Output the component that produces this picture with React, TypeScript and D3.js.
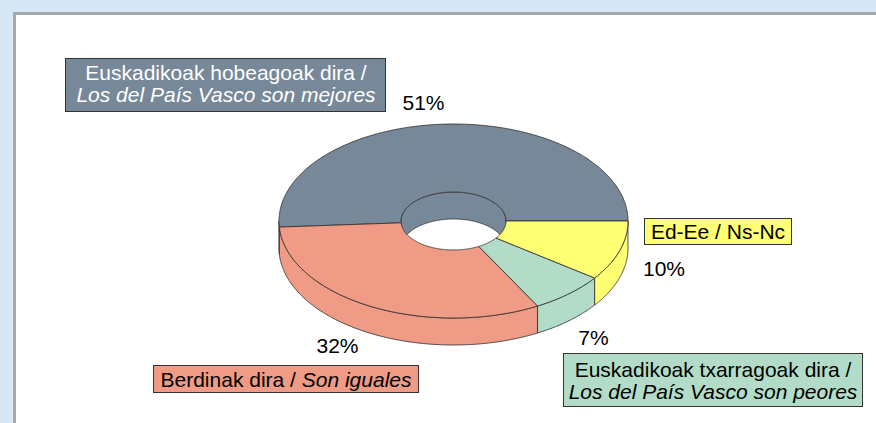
import React from 'react';
import * as d3 from 'd3';

const categories = [
  'Euskadikoak hobeagoak dira / Los del País Vasco son mejores',
  'Berdinak dira / Son iguales',
  'Euskadikoak txarragoak dira / Los del País Vasco son peores',
  'Ed-Ee / Ns-Nc',
];
const values = [51, 32, 7, 10];
const percentLabels = ['51%', '32%', '7%', '10%'];
const colors = ['#778899', '#ef9b86', '#b3dcc8', '#ffff73'];

const W = 876;
const H = 423;
const FONT = '"Liberation Sans", Arial, sans-serif';

const cx = 453.5;
const cy = 221;
const rx = 174.5;
const ry = 97;
const irx = 52.5;
const iry = 29;
const depth = 27;

type P = [number, number];
const pt = (a: number, b: number, t: number, dy = 0): P => [cx + a * Math.cos(t), cy - b * Math.sin(t) + dy];
const arcPts = (a: number, b: number, t0: number, t1: number, dy = 0): P[] => {
  const n = Math.max(2, Math.ceil(Math.abs(t1 - t0) / 0.01));
  return d3.range(n + 1).map((i) => pt(a, b, t0 + ((t1 - t0) * i) / n, dy));
};
const line = d3.line<P>().x((d) => d[0]).y((d) => d[1]);
const closed = (pts: P[]) => (line(pts) || '') + 'Z';

const pie = d3.pie<number>().sort(null).startAngle(0).endAngle(2 * Math.PI);
const arcs = pie(values);

function topFace(t0: number, t1: number) {
  return closed([...arcPts(rx, ry, t0, t1), ...arcPts(irx, iry, t1, t0)]);
}
function wall(a: number, b: number, t0: number, t1: number) {
  return closed([...arcPts(a, b, t0, t1), ...arcPts(a, b, t1, t0, depth)]);
}

interface BoxLine { text: string; italic?: string; upright?: string }

export default function App() {
  const outerWalls: JSX.Element[] = [];
  const innerWalls: JSX.Element[] = [];
  arcs.forEach((d, i) => {
    const s = Math.max(d.startAngle, Math.PI);
    const e = Math.min(d.endAngle, 2 * Math.PI);
    if (e > s) outerWalls.push(<path key={'ow' + i} d={wall(rx, ry, s, e)} fill={colors[i]} stroke="#2b2b2b" strokeWidth={0.8} />);
    const s2 = Math.max(d.startAngle, 0);
    const e2 = Math.min(d.endAngle, Math.PI);
    if (e2 > s2) innerWalls.push(<path key={'iw' + i} d={wall(irx, iry, s2, e2)} fill={colors[i]} stroke="#2b2b2b" strokeWidth={0.8} />);
  });

  const textStyle = { fontFamily: FONT, fontSize: 21 } as const;

  return (
    <div style={{ position: 'absolute', left: 0, top: 0, width: W, height: H }}>
      <svg width={W} height={H} viewBox={`0 0 ${W} ${H}`} style={{ display: 'block' }}>
        <rect x={0} y={0} width={W} height={H} fill="#d6e8f6" />
        <rect x={14.5} y={13.5} width={W + 20} height={H + 20} fill="#ffffff" stroke="#a9a9a9" strokeWidth={3} />

        <g>
          {outerWalls}
          {innerWalls}
          {arcs.map((d, i) => (
            <path key={'t' + i} d={topFace(d.startAngle, d.endAngle)} fill={colors[i]} stroke="#2b2b2b" strokeWidth={0.8} />
          ))}
        </g>

        {/* Gray label */}
        <rect x={65.5} y={58.5} width={320} height={53} fill={colors[0]} stroke="#333" strokeWidth={1} />
        <text x={226} y={80} textAnchor="middle" fill="#ffffff" style={textStyle}>Euskadikoak hobeagoak dira /</text>
        <text x={226} y={102} textAnchor="middle" fill="#ffffff" fontStyle="italic" style={textStyle}>Los del País Vasco son mejores</text>

        {/* Yellow label */}
        <rect x={644.5} y={218.5} width={147} height={26} fill={colors[3]} stroke="#333" strokeWidth={1} />
        <text x={718} y={239} textAnchor="middle" fill="#000" style={textStyle}>{categories[3]}</text>

        {/* Green label */}
        <rect x={563.5} y={353.5} width={299} height={53} fill={colors[2]} stroke="#333" strokeWidth={1} />
        <text x={713} y={377} textAnchor="middle" fill="#000" style={textStyle}>Euskadikoak txarragoak dira /</text>
        <text x={713} y={399} textAnchor="middle" fill="#000" fontStyle="italic" style={textStyle}>Los del País Vasco son peores</text>

        {/* Salmon label */}
        <rect x={153.5} y={365.5} width={265} height={27} fill={colors[1]} stroke="#333" strokeWidth={1} />
        <text x={286} y={387} textAnchor="middle" fill="#000" style={textStyle}>
          Berdinak dira / <tspan fontStyle="italic">Son iguales</tspan>
        </text>

        {/* Percent labels */}
        <text x={423.5} y={110} textAnchor="middle" fill="#000" style={textStyle}>{percentLabels[0]}</text>
        <text x={337.5} y={353} textAnchor="middle" fill="#000" style={textStyle}>{percentLabels[1]}</text>
        <text x={593.5} y={345} textAnchor="middle" fill="#000" style={textStyle}>{percentLabels[2]}</text>
        <text x={664} y={276} textAnchor="middle" fill="#000" style={textStyle}>{percentLabels[3]}</text>
      </svg>
    </div>
  );
}
